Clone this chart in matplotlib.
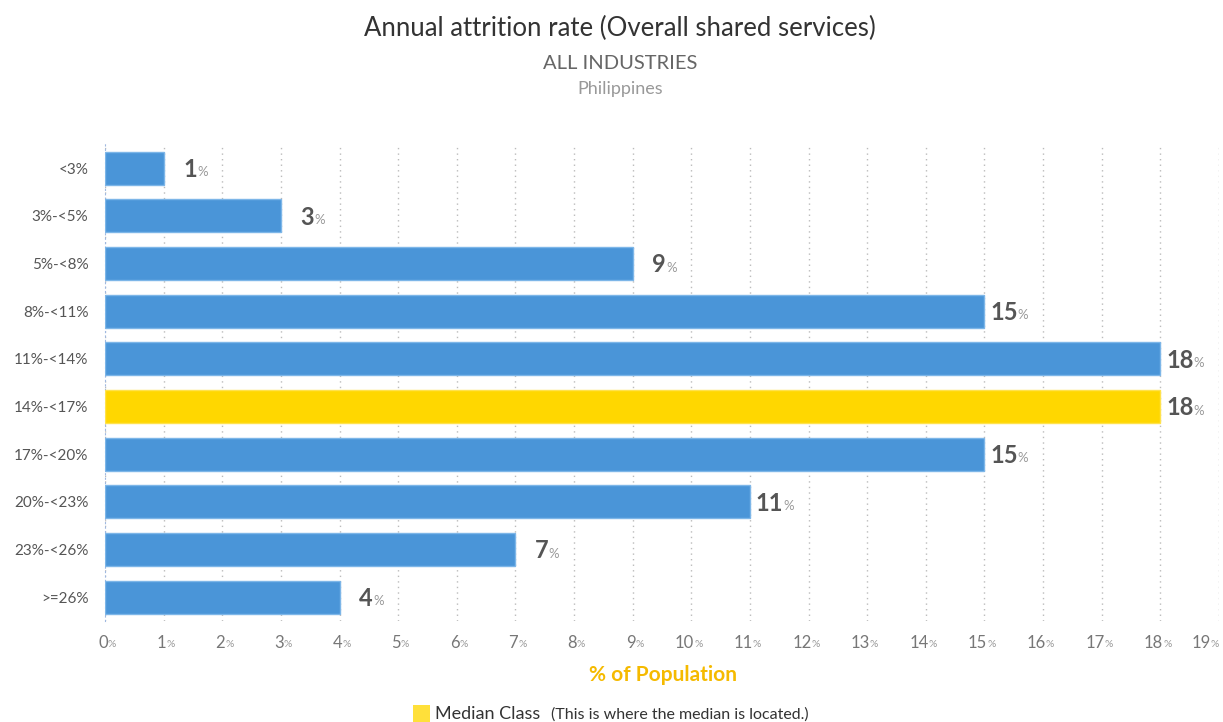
import matplotlib

matplotlib.use("Agg")
import matplotlib.pyplot as plt
from matplotlib.patches import Rectangle

plt.rcParams["font.family"] = ["Lato", "DejaVu Sans"]

CATEGORIES = ["<3%", "3%-<5%", "5%-<8%", "8%-<11%", "11%-<14%", "14%-<17%",
              "17%-<20%", "20%-<23%", "23%-<26%", ">=26%"]
SHARES = [1, 3, 9, 15, 18, 18, 15, 11, 7, 4]
MEDIAN_CLASS = "14%-<17%"
X_TICKS = list(range(0, 20))

BLUE = "#4A95D8"
YELLOW = "#FFD700"
DARK = "#555555"
LIGHT = "#999999"

fig = plt.figure(figsize=(12.23, 7.22), dpi=100)
ax = fig.add_axes([0.0859, 0.140, 0.9108, 0.660])

y = list(range(len(CATEGORIES)))
colors = [YELLOW if c == MEDIAN_CLASS else BLUE for c in CATEGORIES]
edges = ["#FFE24D" if c == MEDIAN_CLASS else "#7DB6E8" for c in CATEGORIES]
ax.barh(y, SHARES, height=0.69, color=colors, edgecolor=edges, linewidth=1, zorder=3)

ax.set_ylim(len(CATEGORIES) - 0.5, -0.5)
ax.set_xlim(0, 19)
ax.set_yticks(y, CATEGORIES)
ax.tick_params(axis="y", length=0, pad=12, labelsize=11, labelcolor=DARK)
ax.set_xticks(X_TICKS)
ax.tick_params(axis="x", length=0, labelbottom=False)
ax.grid(axis="x", linestyle=(0, (1, 3)), color="#bbbbbb", linewidth=1, zorder=0)
ax.grid(axis="y", visible=False)
for side in ["top", "right", "bottom"]:
    ax.spines[side].set_visible(False)
ax.spines["left"].set_linestyle((0, (1, 3)))
ax.spines["left"].set_color("#9fb8e0")

# value labels: bold number + small percent sign
for yi, v in zip(y, SHARES):
    ax.annotate(f"{v}", xy=(v, yi), xytext=(24, -1), textcoords="offset points",
                ha="right", va="center", fontsize=17, fontweight="bold", color=DARK)
    ax.annotate("%", xy=(v, yi), xytext=(24, -3), textcoords="offset points",
                ha="left", va="center", fontsize=9.5, color=LIGHT)

# x tick labels with small percent sign (last one pulled in to stay inside)
for t in X_TICKS:
    dx = 2 if t < X_TICKS[-1] else -6
    ax.annotate(f"{t}", xy=(t, 0), xycoords=("data", "axes fraction"),
                xytext=(dx, -16), textcoords="offset points",
                ha="right", va="center", fontsize=12, color="#777777")
    ax.annotate("%", xy=(t, 0), xycoords=("data", "axes fraction"),
                xytext=(dx, -17), textcoords="offset points",
                ha="left", va="center", fontsize=7.5, color=LIGHT)

fig.text(0.507, 0.961, "Annual attrition rate (Overall shared services)",
         ha="center", va="center", fontsize=18.5, color="#333333")
fig.text(0.507, 0.912, "ALL INDUSTRIES", ha="center", va="center",
         fontsize=14.5, color="#666666")
fig.text(0.507, 0.877, "Philippines", ha="center", va="center",
         fontsize=13, color="#999999")

fig.text(0.542, 0.065, "% of Population", ha="center", va="center",
         fontsize=15, fontweight="bold", color="#F5BA00")

# legend for the median class
fig.patches.append(Rectangle((0.338, 0.0), 0.0139, 0.024, transform=fig.transFigure,
                             facecolor="#FFE03A", edgecolor="none"))
fig.text(0.356, 0.011, "Median Class", ha="left", va="center", fontsize=13, color="#333333")
fig.text(0.4505, 0.011, "(This is where the median is located.)", ha="left", va="center",
         fontsize=11.5, color="#333333")

fig.savefig("out.png", dpi=100)
